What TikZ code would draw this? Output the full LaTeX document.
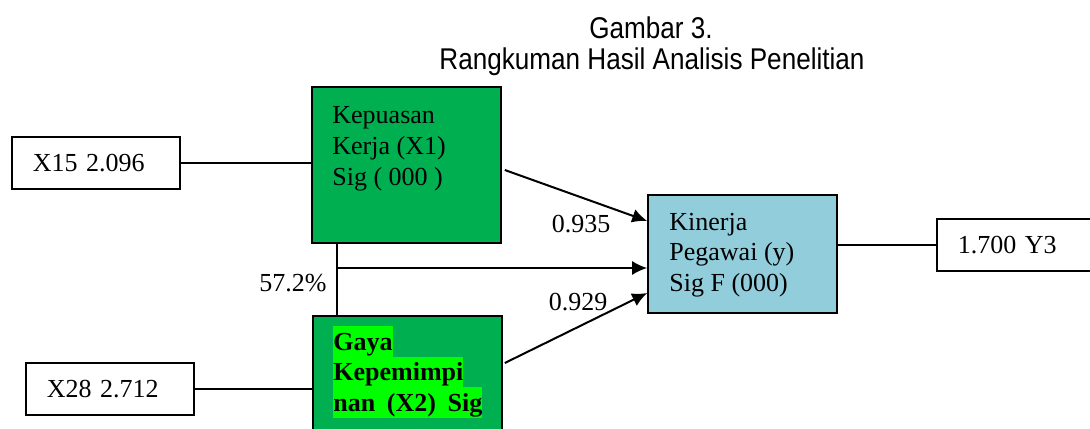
\documentclass[tikz,border=0pt]{standalone}
\usepackage{fontspec}
\setmainfont{Liberation Serif}
\newfontfamily\titlefont[FakeStretch=0.87]{Liberation Sans}
\usetikzlibrary{arrows.meta,calc}
\definecolor{boxgreen}{RGB}{0,176,80}
\definecolor{hilite}{RGB}{0,255,0}
\definecolor{boxblue}{RGB}{146,205,220}
\newcommand{\boxfont}{\fontsize{13}{15.5}\selectfont}
\newcommand{\headfont}{\titlefont\fontsize{15}{17}\selectfont}
\tikzset{
    node style var/.style={draw,rectangle,line width=0.8pt,minimum width=94.5pt},
    node style val/.style={draw,rectangle,line width=0.8pt,anchor=west,align=left,inner xsep=10.5pt,minimum height=26pt,font=\boxfont},
    node style txt/.style={anchor=base west,inner sep=0pt,font=\boxfont},
    node style hl/.style={anchor=base west,inner sep=0pt,fill=hilite,text height=12pt,text depth=3.5pt,font=\boxfont\bfseries},
    arrow style path/.style={->,line width=1pt},
}

\begin{document}
\begin{tikzpicture}[x=0.5pt,y=-0.5pt,>={Latex[length=7.5pt,width=7pt]}]
\useasboundingbox (0,0) rectangle (1090,428);

\node [anchor=base,font=\headfont] (gambar) at (651,38) {Gambar 3.};
\node [anchor=base,font=\headfont] (rangkuman) at (652,69) {Rangkuman Hasil Analisis Penelitian};

% variable boxes
\node [node style var,fill=boxgreen,minimum height=78pt] (kepuasan) at (406.5,165) {};
\node [node style var,fill=boxgreen,minimum height=80pt] (gaya) at (407.5,396) {};
\node [node style var,fill=boxblue,minimum height=59pt] (kinerja) at (742.5,254) {};

\foreach \txt [count=\i] in {Kepuasan, Kerja (X1), Sig ( 000 )}
    \node [node style txt] (kep\i) at (332,92+31*\i) {\txt};
\foreach \txt [count=\i] in {Kinerja, Pegawai (y), Sig F (000)}
    \node [node style txt] (kin\i) at (669,199.5+30.5*\i) {\txt};
\foreach \txt [count=\i] in {Gaya, Kepemimpi, {\makebox[74.5pt][s]{nan (X2) Sig}}}
    \node [node style hl] (gaya\i) at (333,319.5+30.5*\i) {\txt};

% indicator values
\node [node style val,text width=63pt] (x15) at (11,163) {X15 2.096};
\node [node style val,text width=63pt] (x28) at (25,389) {X28 2.712};
\node [node style val,text width=66pt] (y3) at (936,245) {1.700 Y3};

\draw [line width=0.8pt] (x15) -- (x15 -| kepuasan.west);
\draw [line width=0.8pt] (x28) -- (x28 -| gaya.west);
\draw [line width=0.8pt] (y3.west -| kinerja.east) -- (y3.west);

% paths to kinerja
\coordinate (split) at (337,268);
\draw [line width=0.8pt] (split |- kepuasan.south) -- (split |- gaya.north);
\draw [arrow style path] ($(kepuasan.east)+(3,5)$) -- ($(kinerja.west)+(0,-33)$);
\draw [arrow style path] (split) -- (split -| kinerja.west);
\draw [arrow style path] ($(gaya.east)+(2,-33)$) -- ($(kinerja.west)+(0,39)$);

\node [anchor=base,font=\boxfont] (r1) at (581,232) {0.935};
\node [anchor=base,font=\boxfont] (r2) at (578,310) {0.929};
\node [anchor=base,font=\boxfont] (r12) at (293,291) {57.2\%};

\end{tikzpicture}
\end{document}
